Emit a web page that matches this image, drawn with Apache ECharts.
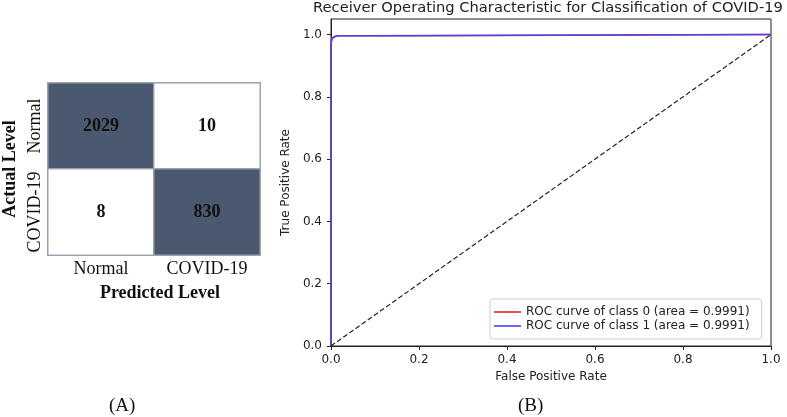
<!DOCTYPE html>
<html><head><meta charset="utf-8">
<script src="https://cdn.jsdelivr.net/npm/echarts@6/dist/echarts.min.js"></script>
<style>html,body{margin:0;padding:0;background:#fff}#c{width:787px;height:417px}</style>
</head><body><div id="c"></div>
<script>
// Confusion matrix
const cmPredicted = ['Normal', 'COVID-19'];
const cmActualRows = ['Normal', 'COVID-19'];
const cmValues = [[2029, 10], [8, 830]]; // rows: actual, cols: predicted
// ROC
const rocTicks = [0, 0.2, 0.4, 0.6, 0.8, 1.0];
const rocClass0 = [[0,0],[0,0.85],[0,0.97],[0.003,0.987],[0.008,0.994],[0.016,0.996],[0.195,0.996],[0.195,1],[1,1]];
const rocClass1 = [[0,0],[0,0.86],[0,0.976],[0.002,0.989],[0.006,0.995],[0.014,0.996],[0.06,0.996],[0.06,1],[1,1]];
const diagonal = [[0,0],[1,1]];
const class0Name = 'ROC curve of class 0 (area = 0.9991)';
const class1Name = 'ROC curve of class 1 (area = 0.9991)';

const yCats = cmActualRows.slice().reverse();
const heatData = [];
cmActualRows.forEach((r, i) => cmPredicted.forEach((p, j) => {
  heatData.push([j, yCats.indexOf(r), cmValues[i][j]]);
}));

const serif = 'Liberation Serif, Times New Roman, serif';
const sans = 'DejaVu Sans, sans-serif';
const fmt = v => (Math.abs(v * 5 - Math.round(v * 5)) < 1e-6 ? v.toFixed(1) : '');

const chart = echarts.init(document.getElementById('c'), null, {renderer: 'canvas'});
chart.setOption({
  animation: false,
  backgroundColor: '#fff',
  title: [
    {text: 'Receiver Operating Characteristic for Classification of COVID-19', left: 308, top: -4,
     textStyle: {fontFamily: sans, fontSize: 14.7, fontWeight: 'normal', color: '#222'}},
    {text: '(A)', left: 104, top: 392, textStyle: {fontFamily: serif, fontSize: 19, fontWeight: 'normal', color: '#111'}},
    {text: '(B)', left: 513, top: 392, textStyle: {fontFamily: serif, fontSize: 19, fontWeight: 'normal', color: '#111'}}
  ],
  grid: [
    {left: 48, top: 83, width: 212, height: 172, show: false},
    {left: 331, top: 19, right: 16, bottom: 71, show: true, borderColor: '#222', borderWidth: 1}
  ],
  visualMap: {show: false, type: 'piecewise', seriesIndex: 0, dimension: 2,
    pieces: [{min: 100, color: '#4a5870'}, {max: 100, color: '#ffffff'}]},
  legend: {
    data: [{name: class0Name, icon: 'rect'}, {name: class1Name, icon: 'rect'}],
    orient: 'vertical', left: 490, top: 299, itemWidth: 27, itemHeight: 1.6, itemGap: 0,
    padding: [6, 12, 6, 4], borderColor: '#cccccc', borderWidth: 1, borderRadius: 3,
    backgroundColor: 'rgba(255,255,255,0.9)',
    textStyle: {fontFamily: sans, fontSize: 12, color: '#222', lineHeight: 14}
  },
  xAxis: [
    {type: 'category', gridIndex: 0, data: cmPredicted, axisLine: {show: false}, axisTick: {show: false},
     axisLabel: {fontFamily: serif, fontSize: 18, color: '#111', margin: 5, interval: 0},
     name: 'Predicted Level', nameLocation: 'middle', nameGap: 29,
     nameTextStyle: {fontFamily: serif, fontSize: 18, fontWeight: 'bold', color: '#111', padding: [0, 0, 0, 12]}},
    {type: 'value', gridIndex: 1, min: 0, max: 1, interval: 0.2, splitLine: {show: false},
     axisLine: {show: true, lineStyle: {color: '#222'}},
     axisTick: {show: true, length: 4, lineStyle: {color: '#222'}},
     axisLabel: {fontFamily: sans, fontSize: 12, color: '#222', margin: 8, formatter: fmt},
     name: 'False Positive Rate', nameLocation: 'middle', nameGap: 24,
     nameTextStyle: {fontFamily: sans, fontSize: 12, color: '#222'}}
  ],
  yAxis: [
    {type: 'category', gridIndex: 0, data: yCats, axisLine: {show: false}, axisTick: {show: false},
     axisLabel: {fontFamily: serif, fontSize: 18, color: '#111', margin: 4, rotate: 90, interval: 0, hideOverlap: false},
     name: 'Actual Level', nameLocation: 'middle', nameGap: 29, nameRotate: 90,
     nameTextStyle: {fontFamily: serif, fontSize: 18, fontWeight: 'bold', color: '#111'}},
    {type: 'value', gridIndex: 1, min: 0, max: 1.05, splitLine: {show: false},
     axisLine: {show: true, lineStyle: {color: '#222'}},
     axisTick: {show: true, length: 4, lineStyle: {color: '#222'}, customValues: rocTicks},
     axisLabel: {fontFamily: sans, fontSize: 12, color: '#222', margin: 9, formatter: fmt, customValues: rocTicks},
     name: 'True Positive Rate', nameLocation: 'middle', nameGap: 34,
     nameTextStyle: {fontFamily: sans, fontSize: 12, color: '#222'}}
  ],
  series: [
    {type: 'heatmap', xAxisIndex: 0, yAxisIndex: 0, data: heatData,
     itemStyle: {borderColor: '#9aa3b0', borderWidth: 1.5},
     label: {show: true, fontFamily: serif, fontSize: 18, fontWeight: 'bold', color: '#111'},
     emphasis: {disabled: true}},
    {type: 'line', name: class0Name, xAxisIndex: 1, yAxisIndex: 1, data: rocClass0, symbol: 'none',
     color: '#e3262b', lineStyle: {color: '#e3262b', width: 1.5}},
    {type: 'line', name: class1Name, xAxisIndex: 1, yAxisIndex: 1, data: rocClass1, symbol: 'none',
     color: '#4646ee', lineStyle: {color: '#4646ee', width: 1.5}},
    {type: 'line', name: 'diag', xAxisIndex: 1, yAxisIndex: 1, data: diagonal, symbol: 'none',
     lineStyle: {color: '#222', width: 1.2, type: [5, 2.5]}}
  ]
});
</script></body></html>
